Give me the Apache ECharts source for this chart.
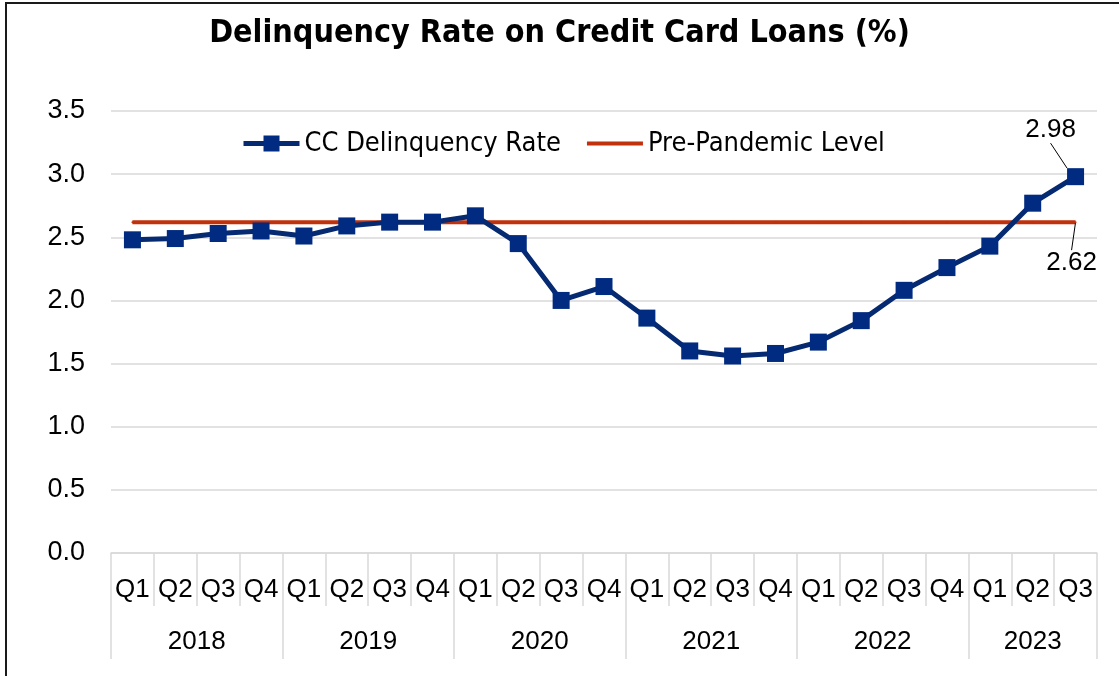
<!DOCTYPE html>
<html>
<head>
<meta charset="utf-8" />
<title>Delinquency Rate on Credit Card Loans</title>
<script src="https://cdn.jsdelivr.net/npm/echarts@6/dist/echarts.min.js"></script>
<style>
  html, body { margin: 0; padding: 0; background: #fff; }
  #chart { width: 1119px; height: 676px; }
  #frame { position: absolute; left: 5px; top: 2px; right: 0; bottom: 0;
           border-left: 2px solid #1a1a1a; border-top: 2px solid #1a1a1a; pointer-events: none; }
</style>
</head>
<body>
<div id="chart"></div>
<div id="frame"></div>
<script type="text/javascript">
    // data
    var quarters = ['Q1','Q2','Q3','Q4','Q1','Q2','Q3','Q4','Q1','Q2','Q3','Q4',
                    'Q1','Q2','Q3','Q4','Q1','Q2','Q3','Q4','Q1','Q2','Q3'];
    var years = ['2018','2019','2020','2021','2022','2023'];
    var yearStarts = [0, 4, 8, 12, 16, 20, 23];
    var ccRate = [2.48, 2.49, 2.53, 2.55, 2.51, 2.59, 2.62, 2.62, 2.67, 2.45, 2.00, 2.11,
                  1.86, 1.60, 1.56, 1.58, 1.67, 1.84, 2.08, 2.26, 2.43, 2.77, 2.98];
    var preLevel = 2.62;
    var yTicks = ['0.0','0.5','1.0','1.5','2.0','2.5','3.0','3.5'];

    var lastIdx = ccRate.length - 1;
    var preData = quarters.map(function () { return preLevel; });
    var yearMids = years.map(function (y, i) { return (yearStarts[i] + yearStarts[i + 1]) / 2; });

    var gray = '#d9d9d9';
    var red = '#c0310c';
    var font = 'Liberation Sans';

    var myChart = echarts.init(document.getElementById('chart'));
    var option = {
        animation: false,
        title: {
            text: 'Delinquency Rate on Credit Card Loans (%)',
            left: 'center', top: 13,
            textStyle: { fontFamily: 'DejaVu Sans Condensed', fontWeight: 'bold', fontSize: 32, color: '#000' }
        },
        legend: {
            top: 125, left: 236,
            itemGap: 26, itemWidth: 56, itemHeight: 20,
            lineStyle: { width: 5 },
            textStyle: { fontFamily: 'DejaVu Sans Condensed', fontSize: 27, color: '#000' },
            data: [
                { name: 'CC Delinquency Rate' },
                { name: 'Pre-Pandemic Level', icon: 'path://M0 0H100V7H0Z' }
            ]
        },
        grid: { left: 111, right: 22, top: 111, bottom: 123 },
        xAxis: [{
            type: 'category',
            data: quarters,
            boundaryGap: true,
            axisLine: { lineStyle: { color: gray, width: 1.5 } },
            axisTick: { show: true, length: 53, lineStyle: { color: gray, width: 1.5 } },
            axisLabel: { interval: 0, margin: 24, fontFamily: font, fontSize: 26, color: '#000' }
        }, {
            type: 'value',
            min: 0, max: 23,
            position: 'bottom',
            offset: 53,
            splitLine: { show: false },
            axisLine: { show: false },
            axisTick: { show: true, length: 53, customValues: yearStarts, lineStyle: { color: gray, width: 1.5 } },
            axisLabel: {
                margin: 23, fontFamily: font, fontSize: 26, color: '#000',
                customValues: yearMids,
                formatter: function (v) {
                    var i = yearMids.indexOf(v);
                    return i >= 0 ? years[i] : '';
                }
            }
        }],
        yAxis: {
            type: 'value',
            min: 0, max: 3.5, interval: 0.5,
            axisLine: { show: false },
            axisTick: { show: false },
            splitLine: { lineStyle: { color: gray, width: 1.5 } },
            axisLabel: {
                margin: 26, fontFamily: font, fontSize: 27, color: '#000',
                formatter: function (v) { return yTicks[Math.round(v / 0.5)]; }
            }
        },
        series: [{
            name: 'Pre-Pandemic Level',
            type: 'line',
            data: preData.map(function (v, i) {
                return i === lastIdx ? { value: v, label: { show: true } } : v;
            }),
            showSymbol: true,
            symbol: 'circle',
            symbolSize: 2,
            z: 2,
            lineStyle: { color: red, width: 4 },
            itemStyle: { color: red },
            label: {
                show: false, position: 'bottom', fontFamily: font, fontSize: 26, color: '#000',
                formatter: function (p) { return p.value.toFixed(2); }
            },
            labelLine: { show: true, lineStyle: { color: '#000', width: 1 } },
            labelLayout: { dx: -4, dy: 22 }
        }, {
            name: 'CC Delinquency Rate',
            type: 'line',
            data: ccRate.map(function (v, i) {
                return i === lastIdx ? { value: v, label: { show: true } } : v;
            }),
            symbol: 'rect',
            symbolSize: 17,
            z: 3,
            lineStyle: { color: '#052a72', width: 5 },
            itemStyle: { color: '#002b80' },
            label: {
                show: false, position: 'top', fontFamily: font, fontSize: 26, color: '#000',
                formatter: function (p) { return p.value.toFixed(2); }
            },
            labelLine: { show: true, lineStyle: { color: '#000', width: 1 } },
            labelLayout: { dx: -25, dy: -20 }
        }]
    };
    myChart.setOption(option);
</script>
</body>
</html>
